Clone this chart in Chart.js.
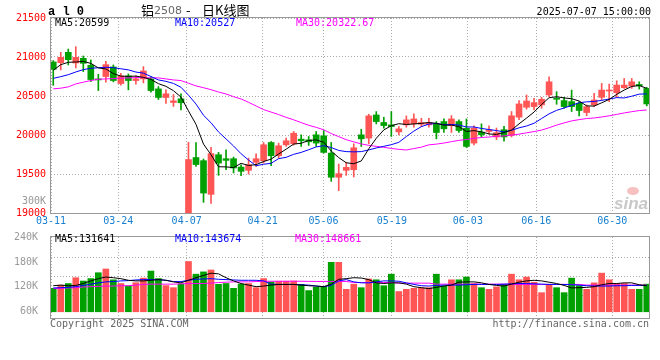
<!DOCTYPE html>
<html><head><meta charset="utf-8">
<script src="https://cdn.jsdelivr.net/npm/chart.js@4.4.1/dist/chart.umd.min.js"></script>
<style>
html,body{margin:0;padding:0;background:#fff;}
#wrap{position:relative;width:660px;height:360px;overflow:hidden;}
canvas{position:absolute;left:0;}
#c1{top:0;} #c2{top:226px;}
</style></head><body>
<div id="wrap"><canvas id="c1" width="660" height="226"></canvas><canvas id="c2" width="660" height="134"></canvas></div>
<script>
// ---------- DATA ----------
const dateLabels = ["03-11","03-24","04-07","04-21","05-06","05-19","06-03","06-16","06-30"];
const dateIdx    = [0, 9, 18, 28, 36, 45, 55, 64, 74];
const priceTicks = [19000, 19500, 20000, 20500, 21000, 21500];
const volTicks   = [60000, 120000, 180000, 240000];

const openP = [20936,20928,21060,20923,20983,20894,20719,20749,20872,20660,
  20757,20698,20719,20719,20591,20481,20417,20464,18950,19711,
  19671,19239,19747,19696,19696,19589,19547,19649,19670,19904,
  19734,19874,19887,19947,19938,20002,19989,19768,19458,19547,
  19555,20002,19960,20257,20160,20130,20040,20130,20143,20138,
  20130,20138,20172,20121,20172,20087,19896,20036,20045,19975,
  20068,19996,20229,20356,20364,20386,20513,20470,20441,20428,
  20407,20288,20386,20483,20564,20542,20606,20627,20648,20597];
const highP = [20953,21060,21102,21132,21013,20962,20779,20945,20898,20792,
  20783,20757,20877,20749,20621,20579,20519,20528,19906,19902,
  19692,19842,19777,19811,19717,19619,19704,19760,19904,19917,
  19896,19960,20045,20002,19981,20045,20057,19904,19628,19649,
  19887,20074,20266,20300,20228,20300,20108,20245,20270,20215,
  20215,20172,20206,20249,20194,20206,20117,20143,20117,20089,
  20110,20301,20441,20513,20470,20483,20746,20555,20483,20576,
  20428,20386,20534,20661,20653,20695,20725,20725,20682,20610];
const lowP = [20637,20834,20898,20860,20813,20685,20570,20677,20681,20638,
  20579,20651,20668,20549,20455,20404,20366,20323,18900,19596,
  19137,19124,19483,19555,19513,19479,19500,19598,19640,19606,
  19704,19853,19870,19853,19866,19853,19768,19406,19286,19483,
  19462,19853,19887,20142,20087,19981,20002,20100,20100,20108,
  20100,19951,20032,20032,20032,19840,19874,19972,20015,19941,
  19920,19975,20195,20331,20322,20343,20492,20394,20343,20301,
  20246,20246,20364,20449,20428,20483,20597,20597,20589,20373];
const closeP = [20843,20996,20966,20996,20919,20711,20706,20902,20698,20757,
  20698,20719,20821,20570,20481,20528,20438,20413,19685,19621,
  19256,19761,19640,19675,19577,19534,19619,19696,19874,19734,
  19862,19926,20023,19926,19913,19896,19777,19458,19504,19585,
  19836,19951,20245,20172,20121,20108,20079,20194,20206,20160,
  20160,20032,20079,20206,20057,19853,20087,20002,20066,20030,
  19975,20246,20398,20436,20415,20458,20682,20458,20364,20364,
  20314,20364,20449,20576,20576,20640,20640,20682,20631,20398];

const ma5 = [20829,20902,20932,20936,20944,20918,20860,20847,20787,20755,
  20752,20755,20739,20713,20658,20624,20568,20486,20309,20137,
  19883,19747,19593,19591,19582,19637,19609,19620,19660,19691,
  19757,19818,19884,19894,19930,19937,19907,19794,19710,19644,
  19632,19667,19824,19958,20065,20119,20145,20135,20142,20149,
  20160,20150,20127,20127,20107,20045,20056,20041,20013,20008,
  20032,20064,20143,20217,20294,20391,20478,20490,20475,20465,
  20436,20373,20371,20413,20456,20521,20576,20623,20634,20598];
const ma10 = [20726,20748,20773,20808,20838,20855,20863,20868,20863,20849,
  20835,20807,20793,20750,20706,20688,20661,20612,20511,20397,
  20253,20157,20039,19950,19859,19760,19678,19606,19625,19637,
  19697,19714,19752,19777,19811,19847,19863,19839,19802,19787,
  19784,19787,19809,19834,19855,19876,19906,19980,20050,20107,
  20140,20148,20131,20135,20128,20103,20103,20084,20070,20057,
  20039,20060,20092,20115,20151,20211,20271,20316,20346,20380,
  20414,20425,20430,20444,20461,20479,20475,20497,20524,20527];
const ma30 = [20592,20600,20617,20655,20677,20698,20715,20719,20723,20728,
  20732,20736,20736,20732,20732,20719,20706,20698,20664,20630,
  20606,20581,20551,20526,20491,20462,20419,20372,20325,20294,
  20262,20226,20195,20159,20125,20098,20067,20019,19979,19940,
  19912,19886,19867,19854,19842,19828,19816,19808,19826,19844,
  19874,19883,19897,19915,19931,19942,19957,19968,19974,19984,
  19988,19998,20011,20028,20044,20063,20093,20127,20155,20181,
  20197,20211,20218,20231,20246,20264,20283,20299,20313,20321];

const volume = [116500,124000,128000,142000,134000,140000,154000,163000,137000,128000,
  122000,130000,141000,158000,140000,123000,118000,127000,181000,150500,
  156000,160600,126000,128000,116500,126500,128000,118000,140000,132000,
  133500,133500,134000,126000,111000,119000,120000,179000,179000,114000,
  126500,118000,139000,137000,122700,150500,108700,114000,116500,118000,
  118000,150500,122000,137000,137000,143600,128000,118000,114000,120000,
  126000,150500,137000,143600,131000,106000,124000,118000,106000,141000,
  122700,114000,129600,153000,137000,128000,128000,114000,114000,126500];
const volMa5 = [122700,124200,122700,123500,128000,134300,139700,143600,142000,139700,
  135800,134300,134300,135800,137400,135800,132000,129600,135800,142000,
  147400,152900,151300,142000,134300,128000,124200,120400,121900,124200,
  125800,125800,125800,124200,122700,121900,120400,126500,138200,139700,
  142000,141200,137400,129600,128000,129600,129600,126500,120400,118000,
  115700,118800,121900,124200,131200,132000,132000,129600,125800,123500,
  121900,126500,131200,134300,135800,134300,131200,128000,123500,117300,
  118000,118800,120400,125000,128000,128000,129600,129600,125000,122700];
const volMa10 = [117300,118000,118800,120400,123500,126500,129600,132000,132700,134300,
  135000,136600,137400,137400,137400,135800,132700,132700,135800,138200,
  139000,139700,138200,137400,136600,135800,135800,135800,134300,126500,
  125800,125800,125800,125000,124200,121900,120400,123500,134300,137400,
  132000,129600,129600,132000,134300,134300,133500,129600,125800,122700,
  121900,123500,124200,124200,124200,125000,125800,125800,125800,125800,
  126500,127300,128000,128000,127300,126500,125800,125800,125800,125000,
  124200,122700,121900,121900,121900,122700,122700,123500,123500,123500];
const volMa30 = [115700,116500,117300,118000,119600,120400,121100,121900,121900,122700,
  122700,124200,125800,126500,126500,126500,126500,127300,128000,128000,
  128000,128900,130400,131200,132000,132000,132000,132700,133500,133500,
  133500,133500,133500,133500,133200,133000,133000,133000,133000,133000,
  130400,130400,130400,130400,130400,130400,128900,128900,128900,128900,
  128900,126500,126500,126500,126500,126500,126500,126500,126500,126500,
  126500,125800,125800,125800,125800,125800,125800,125800,125800,125800,
  125800,124200,124200,124200,124200,124200,124200,124200,124200,124200];

const priceMaText = ["MA5:20599", "MA10:20527", "MA30:20322.67"];
const volMaText   = ["MA5:131641", "MA10:143674", "MA30:148661"];

// ---------- STYLE ----------
const RED = '#ff5555', GREEN = '#00a000';
const GRID = '#aaaaaa', BORDER = '#999999';
const MONO = '"DejaVu Sans Mono", "Liberation Mono", monospace';
const X_MIN = -0.3, X_MAX = 79.3;
const tickPos = i => Math.max(X_MIN, i * 1.0116 - 0.45);

const idx = closeP.map((_, i) => i);
const candleColor = idx.map(i => closeP[i] >= openP[i] ? RED : GREEN);
const pts = arr => idx.map(i => ({x: i, y: arr[i]}));

function xScale(showLabels, height) {
  return {
    type: 'linear', min: X_MIN, max: X_MAX, offset: false, bounds: 'ticks',
    afterBuildTicks: s => { s.ticks = dateIdx.map(i => ({value: tickPos(i)})); },
    afterFit: s => { s.height = height; },
    grid: {color: GRID, drawTicks: false, offset: false},
    border: {display: false, dash: [1, 2]},
    ticks: {display: showLabels, autoSkip: false, maxRotation: 0, padding: 2,
      color: '#1a80d0', font: {family: MONO, size: 10},
      callback: (v, k) => dateLabels[k]}
  };
}

function boxPlugin(id, drawExtra) {
  return {id, afterDraw(chart) {
    const {ctx, chartArea: a} = chart;
    ctx.save();
    ctx.strokeStyle = BORDER; ctx.lineWidth = 1;
    ctx.strokeRect(Math.round(a.left) - 0.5, Math.round(a.top) - 0.5,
      Math.round(a.right - a.left) + 1, Math.round(a.bottom - a.top) + 1);
    drawExtra(ctx, a);
    ctx.restore();
  }};
}

const mainTexts = boxPlugin('mainTexts', (ctx, a) => {
  ctx.textBaseline = 'middle';
  ctx.fillStyle = '#000';
  ctx.font = 'bold 12px "Liberation Mono"';
  ctx.textAlign = 'left';
  ctx.fillText('a l 0', 48, 12);
  ctx.font = '13px "Noto Sans CJK SC"';
  ctx.fillText('铝', 141, 10);
  ctx.font = '11px "DejaVu Sans"'; ctx.fillStyle = '#666';
  ctx.fillText('2508', 154, 11);
  ctx.font = '13px "Noto Sans CJK SC"'; ctx.fillStyle = '#000';
  ctx.fillText('-', 186, 10);
  ctx.fillText('日K线图', 202, 10);
  ctx.font = '10px ' + MONO;
  ctx.textAlign = 'right';
  ctx.fillText('2025-07-07 15:00:00', 651, 12);
  ctx.textAlign = 'left';
  const cols = ['#000000', '#0000ff', '#ff00ff'], xs = [55, 175, 296];
  priceMaText.forEach((t, k) => { ctx.fillStyle = cols[k]; ctx.fillText(t, xs[k], 23); });
  ctx.fillStyle = '#999'; ctx.textAlign = 'right';
  ctx.fillText('300K', 46, 201);
  // sina watermark
  ctx.textAlign = 'left';
  ctx.fillStyle = 'rgba(240,150,150,0.6)';
  ctx.beginPath(); ctx.ellipse(633, 191, 6, 4, 0, 0, Math.PI * 2); ctx.fill();
  ctx.fillStyle = '#c8c8c8';
  ctx.font = 'italic bold 17px "Liberation Sans"';
  ctx.fillText('sina', 614, 204);
});

const volTexts = boxPlugin('volTexts', (ctx, a) => {
  ctx.textBaseline = 'middle';
  ctx.font = '10px ' + MONO;
  ctx.textAlign = 'left';
  const cols = ['#000000', '#0000ff', '#ff00ff'], xs = [55, 175, 295];
  volMaText.forEach((t, k) => { ctx.fillStyle = cols[k]; ctx.fillText(t, xs[k], 13); });
  ctx.fillStyle = '#666';
  ctx.fillText('Copyright 2025 SINA.COM', 50, 98);
  ctx.textAlign = 'right';
  ctx.fillText('http://finance.sina.com.cn', 649, 98);
});

const lineDs = (label, arr, color, order, yAxisID) => ({
  type: 'line', label, data: pts(arr), borderColor: color, borderWidth: 1,
  pointRadius: 0, tension: 0, order, yAxisID
});

new Chart(document.getElementById('c1'), {
  type: 'bar',
  data: {datasets: [
    {label: 'wick', data: idx.map(i => ({x: i, y: [lowP[i], highP[i]]})),
      backgroundColor: candleColor, barThickness: 1, grouped: false, order: 4, yAxisID: 'y'},
    {label: 'body', data: idx.map(i => ({x: i, y: [openP[i], closeP[i]]})),
      backgroundColor: candleColor, barThickness: 6, minBarLength: 1, grouped: false, order: 3, yAxisID: 'y'},
    lineDs('MA30', ma30, '#ff00ff', 2, 'y'),
    lineDs('MA10', ma10, '#0000ff', 1, 'y'),
    lineDs('MA5', ma5, '#000000', 0, 'y')
  ]},
  options: {
    responsive: false, animation: false, devicePixelRatio: 1,
    layout: {padding: {top: 18, right: 11, left: 0, bottom: 0}},
    plugins: {legend: {display: false}, tooltip: {enabled: false}},
    scales: {
      x: xScale(true, 13),
      y: {
        type: 'linear', min: 19000, max: 21500,
        afterBuildTicks: s => { s.ticks = priceTicks.map(v => ({value: v})); },
        afterFit: s => { s.width = 51; },
        grid: {color: GRID, drawTicks: false},
        border: {display: false, dash: [1, 2]},
        ticks: {color: '#ff0000', padding: 5, font: {family: MONO, size: 10},
          callback: v => String(v)}
      }
    }
  },
  plugins: [mainTexts]
});

new Chart(document.getElementById('c2'), {
  type: 'bar',
  data: {datasets: [
    {label: 'VOL', data: pts(volume), base: 60000, backgroundColor: candleColor,
      barThickness: 6, grouped: false, order: 3, yAxisID: 'y'},
    lineDs('MA30', volMa30, '#ff00ff', 2, 'y'),
    lineDs('MA10', volMa10, '#0000ff', 1, 'y'),
    lineDs('MA5', volMa5, '#000000', 0, 'y')
  ]},
  options: {
    responsive: false, animation: false, devicePixelRatio: 1,
    layout: {padding: {top: 8, right: 11, left: 0, bottom: 0}},
    plugins: {legend: {display: false}, tooltip: {enabled: false}},
    scales: {
      x: xScale(false, 42),
      y: {
        type: 'linear', min: 45000, max: 240000,
        afterBuildTicks: s => { s.ticks = volTicks.map(v => ({value: v})); },
        afterFit: s => { s.width = 51; },
        grid: {display: false},
        border: {display: false},
        ticks: {color: '#999999', padding: 5, font: {family: MONO, size: 10},
          callback: v => (v / 1000) + 'K'}
      },
      yGrid: {
        type: 'linear', position: 'right', min: -0.15, max: 4.05,
        afterBuildTicks: s => { s.ticks = [1, 2, 3].map(v => ({value: v})); },
        afterFit: s => { s.width = 0; },
        grid: {color: GRID, drawTicks: false},
        border: {display: false, dash: [1, 2]},
        ticks: {display: false}
      }
    }
  },
  plugins: [volTexts]
});
</script>
</body></html>
